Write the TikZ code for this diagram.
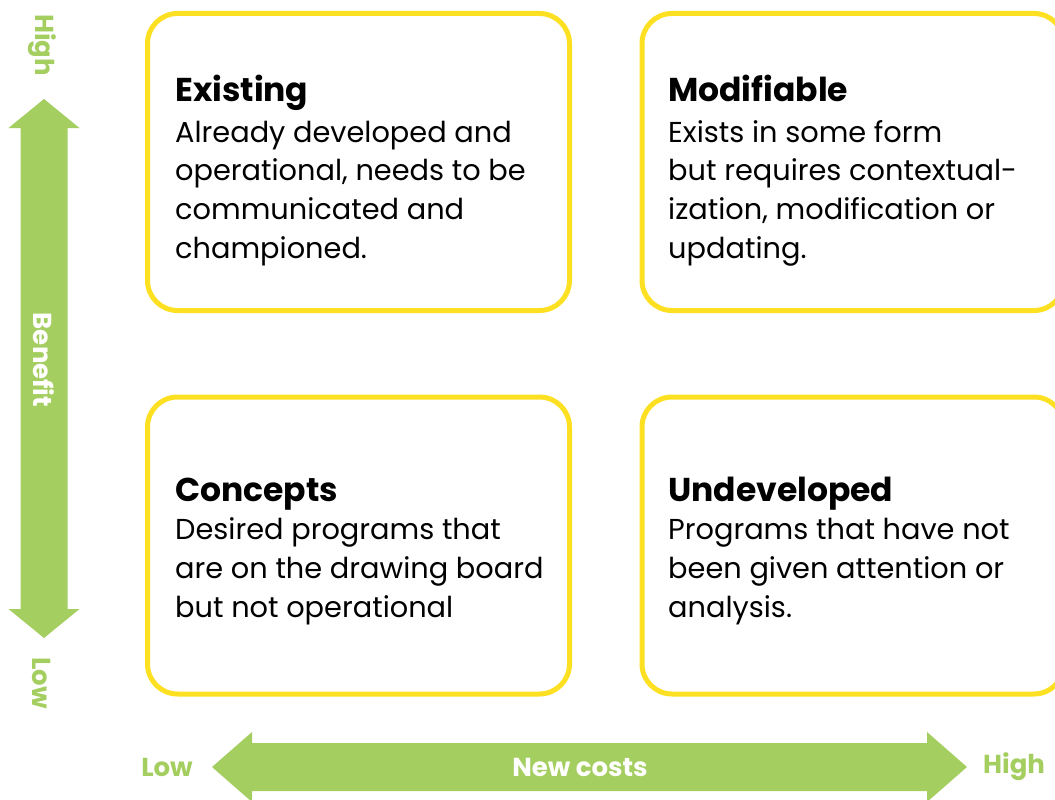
\documentclass[tikz,border=0pt]{standalone}
\usepackage{fontspec}
\setmainfont{Poppins}
\definecolor{boxyellow}{HTML}{FDE021}
\definecolor{axisgreen}{HTML}{A5CE61}
\newcommand{\bodyfont}{\fontsize{28.8}{38.7}\selectfont}
\newcommand{\headfont}{\fontsize{33}{40}\selectfont\bfseries}
\newcommand{\axisfont}{\fontsize{26}{30}\selectfont\bfseries}
\tikzset{
  quad/.style={draw=boxyellow, line width=5pt, rounded corners=30pt, fill=white,
    minimum width=422pt, minimum height=297pt, inner sep=0pt},
  headtxt/.style={anchor=base west, inner sep=0pt, font=\headfont, text=black},
  bodytxt/.style={anchor=base west, inner sep=0pt, font=\bodyfont, text=black},
  axislbl/.style={inner sep=0pt, font=\axisfont, text=axisgreen},
  axisin/.style={inner sep=0pt, font=\axisfont, text=white},
}
\begin{document}
\begin{tikzpicture}[x=1pt, y=-1pt]
\useasboundingbox (0,0) rectangle (1055,800);
\begin{scope}
\clip (0,0) rectangle (1055,800);
% quadrant boxes
\node[quad] (q1) at (358.5,162) {};
\node[quad] (q2) at (853,162) {};
\node[quad] (q3) at (358.5,545.5) {};
\node[quad] (q4) at (853,545.5) {};

% texts box 1
\node[headtxt] (h1) at (175,102) {Existing};
\node[bodytxt] (b1a) at (175,142) {Already developed and};
\node[bodytxt] (b1b) at (175,180.5) {operational, needs to be};
\node[bodytxt] (b1c) at (175,219) {communicated and};
\node[bodytxt] (b1d) at (175,258) {championed.};
% box 2
\node[headtxt] (h2) at (668,102) {Modifiable};
\node[bodytxt] (b2a) at (668,142) {Exists in some form};
\node[bodytxt] (b2b) at (668,180.5) {but requires contextual-};
\node[bodytxt] (b2c) at (668,219) {ization, modification or};
\node[bodytxt] (b2d) at (668,258) {updating.};
% box 3
\node[headtxt] (h3) at (175,501) {Concepts};
\node[bodytxt] (b3a) at (175,539) {Desired programs that};
\node[bodytxt] (b3b) at (175,578) {are on the drawing board};
\node[bodytxt] (b3c) at (175,617) {but not operational};
% box 4
\node[headtxt] (h4) at (668,501) {Undeveloped};
\node[bodytxt] (b4a) at (668,539) {Programs that have not};
\node[bodytxt] (b4b) at (668,578) {been given attention or};
\node[bodytxt] (b4c) at (668,617) {analysis.};

% vertical double arrow
\fill[axisgreen] (44,99) -- (79.5,128) -- (67.5,128) -- (67.5,609) -- (79.5,609)
  -- (44,638) -- (8.5,609) -- (20.5,609) -- (20.5,128) -- (8.5,128) -- cycle;
% horizontal double arrow
\fill[axisgreen] (212,767) -- (252,732) -- (252,743) -- (927,743) -- (927,732)
  -- (967,767) -- (927,802) -- (927,791) -- (252,791) -- (252,802) -- cycle;

\node[axislbl, rotate=-90] (vhigh) at (42,45) {High};
\node[axislbl, rotate=-90] (vlow) at (42,683) {Low};
\node[axisin, rotate=-90] (vben) at (44,360) {Benefit};
\node[axislbl] (hlow) at (167,767) {Low};
\node[axislbl] (hhigh) at (1014,767) {High};
\node[axisin] (hcost) at (580,767) {New costs};
\end{scope}
\end{tikzpicture}
\end{document}
